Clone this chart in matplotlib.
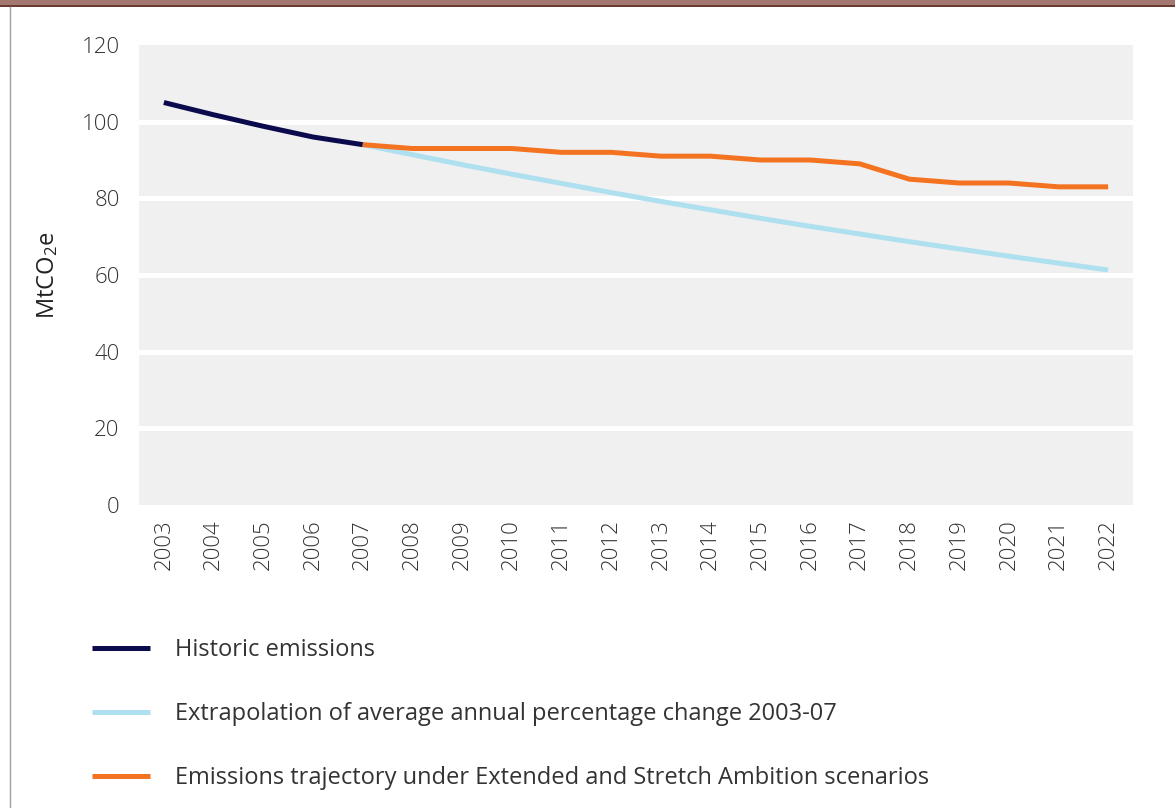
import matplotlib
matplotlib.use("Agg")
import matplotlib.pyplot as plt
from matplotlib.patches import Rectangle
from matplotlib.lines import Line2D

years = [str(y) for y in range(2003, 2023)]

# values (MtCO2e)
historic_years = years[0:5]
historic = [105, 101.8, 98.8, 96.0, 94.0]

extrap_years = years[4:]
extrapolation = [94.0, 91.4, 88.8, 86.3, 83.9, 81.5, 79.2, 77.0, 74.8,
                 72.7, 70.7, 68.7, 66.8, 64.9, 63.1, 61.3]

traj_years = years[4:]
trajectory = [94, 93, 93, 93, 92, 92, 91, 91, 90, 90, 89, 85, 84, 84, 83, 83]

labels = ["Historic emissions",
          "Extrapolation of average annual percentage change 2003-07",
          "Emissions trajectory under Extended and Stretch Ambition scenarios"]

c_hist = "#0b0a4c"
c_extr = "#aee0ef"
c_traj = "#f47321"

plt.rcParams["font.family"] = ["Open Sans", "DejaVu Sans"]
plt.rcParams["mathtext.default"] = "regular"

fig = plt.figure(figsize=(11.75, 8.08), dpi=100)
ax = fig.add_axes([139/1175, 1-505/808, (1133-139)/1175, (505-45)/808])
ax.set_facecolor("#f0f0f0")

idx = {y: i for i, y in enumerate(years)}
ax.plot([idx[y] for y in extrap_years], extrapolation, color=c_extr, lw=3.6,
        solid_capstyle="butt", label=labels[1], zorder=3)
ax.plot([idx[y] for y in traj_years], trajectory, color=c_traj, lw=3.6,
        solid_capstyle="butt", label=labels[2], zorder=4)
ax.plot([idx[y] for y in historic_years], historic, color=c_hist, lw=3.6,
        solid_capstyle="butt", label=labels[0], zorder=5)

for g in [20, 40, 60, 80, 100]:
    ax.axhline(g, color="white", lw=3.6, zorder=1)

ax.set_xlim(-0.5, len(years) - 0.5)
ax.set_ylim(0, 120)
ax.set_xticks(range(len(years)))
ax.set_xticklabels(years, rotation=90)
ax.set_yticks(range(0, 121, 20))
for lab in ax.get_xticklabels() + ax.get_yticklabels():
    lab.set_fontsize(16)
    lab.set_fontweight("light")
    lab.set_color("#333333")
ax.tick_params(length=0, pad=14)
ax.tick_params(axis="x", pad=10)
for s in ax.spines.values():
    s.set_visible(False)
ax.set_ylabel("MtCO$_2$e", fontsize=17, color="#222222", labelpad=15)

h, l = ax.get_legend_handles_labels()
order = [2, 0, 1]
fig.legend([h[i] for i in order], [l[i] for i in order], loc="upper left",
           bbox_to_anchor=(71/1175, 1-617/808), frameon=False, fontsize=17,
           handlelength=2.45, handletextpad=1.06, labelspacing=1.69,
           labelcolor="#333333")

# page decoration
fig.add_artist(Rectangle((0, 1-5/808), 1, 5/808, transform=fig.transFigure,
                         color="#a27870", lw=0))
fig.add_artist(Rectangle((0, 1-7/808), 1, 2.2/808, transform=fig.transFigure,
                         color="#6b3a33", lw=0))
fig.add_artist(Line2D([10/1175, 10/1175], [0, 1-7/808], transform=fig.transFigure,
                      color="#a0a0a0", lw=1))

fig.savefig("out.png", dpi=100)
